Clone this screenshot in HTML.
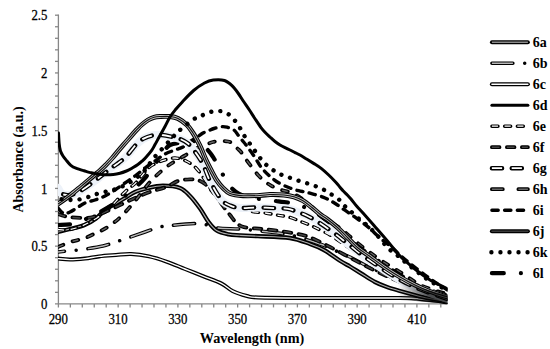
<!DOCTYPE html>
<html><head><meta charset="utf-8"><style>
html,body{margin:0;padding:0;background:#fff;width:550px;height:349px;overflow:hidden}
svg{display:block}
</style></head><body>
<svg width="550" height="349" viewBox="0 0 550 349">
<defs><clipPath id="pc"><rect x="58" y="0" width="389.6" height="304.5"/></clipPath></defs>
<g stroke="#878787" stroke-width="1.3" fill="none">
<line x1="58.4" y1="14.6" x2="58.4" y2="307.6"/>
<line x1="55" y1="303.9" x2="447.2" y2="303.9"/>
<line x1="55" y1="292.35" x2="58.4" y2="292.35"/>
<line x1="55" y1="280.80" x2="58.4" y2="280.80"/>
<line x1="55" y1="269.26" x2="58.4" y2="269.26"/>
<line x1="55" y1="257.71" x2="58.4" y2="257.71"/>
<line x1="55" y1="246.16" x2="58.4" y2="246.16"/>
<line x1="55" y1="234.61" x2="58.4" y2="234.61"/>
<line x1="55" y1="223.06" x2="58.4" y2="223.06"/>
<line x1="55" y1="211.52" x2="58.4" y2="211.52"/>
<line x1="55" y1="199.97" x2="58.4" y2="199.97"/>
<line x1="55" y1="188.42" x2="58.4" y2="188.42"/>
<line x1="55" y1="176.87" x2="58.4" y2="176.87"/>
<line x1="55" y1="165.32" x2="58.4" y2="165.32"/>
<line x1="55" y1="153.78" x2="58.4" y2="153.78"/>
<line x1="55" y1="142.23" x2="58.4" y2="142.23"/>
<line x1="55" y1="130.68" x2="58.4" y2="130.68"/>
<line x1="55" y1="119.13" x2="58.4" y2="119.13"/>
<line x1="55" y1="107.58" x2="58.4" y2="107.58"/>
<line x1="55" y1="96.04" x2="58.4" y2="96.04"/>
<line x1="55" y1="84.49" x2="58.4" y2="84.49"/>
<line x1="55" y1="72.94" x2="58.4" y2="72.94"/>
<line x1="55" y1="61.39" x2="58.4" y2="61.39"/>
<line x1="55" y1="49.84" x2="58.4" y2="49.84"/>
<line x1="55" y1="38.30" x2="58.4" y2="38.30"/>
<line x1="55" y1="26.75" x2="58.4" y2="26.75"/>
<line x1="55" y1="15.20" x2="58.4" y2="15.20"/>
<line x1="70.35" y1="303.9" x2="70.35" y2="307.4"/>
<line x1="82.30" y1="303.9" x2="82.30" y2="307.4"/>
<line x1="94.25" y1="303.9" x2="94.25" y2="307.4"/>
<line x1="106.20" y1="303.9" x2="106.20" y2="307.4"/>
<line x1="118.15" y1="303.9" x2="118.15" y2="307.4"/>
<line x1="130.10" y1="303.9" x2="130.10" y2="307.4"/>
<line x1="142.05" y1="303.9" x2="142.05" y2="307.4"/>
<line x1="154.00" y1="303.9" x2="154.00" y2="307.4"/>
<line x1="165.95" y1="303.9" x2="165.95" y2="307.4"/>
<line x1="177.90" y1="303.9" x2="177.90" y2="307.4"/>
<line x1="189.85" y1="303.9" x2="189.85" y2="307.4"/>
<line x1="201.80" y1="303.9" x2="201.80" y2="307.4"/>
<line x1="213.75" y1="303.9" x2="213.75" y2="307.4"/>
<line x1="225.70" y1="303.9" x2="225.70" y2="307.4"/>
<line x1="237.65" y1="303.9" x2="237.65" y2="307.4"/>
<line x1="249.60" y1="303.9" x2="249.60" y2="307.4"/>
<line x1="261.55" y1="303.9" x2="261.55" y2="307.4"/>
<line x1="273.50" y1="303.9" x2="273.50" y2="307.4"/>
<line x1="285.45" y1="303.9" x2="285.45" y2="307.4"/>
<line x1="297.40" y1="303.9" x2="297.40" y2="307.4"/>
<line x1="309.35" y1="303.9" x2="309.35" y2="307.4"/>
<line x1="321.30" y1="303.9" x2="321.30" y2="307.4"/>
<line x1="333.25" y1="303.9" x2="333.25" y2="307.4"/>
<line x1="345.20" y1="303.9" x2="345.20" y2="307.4"/>
<line x1="357.15" y1="303.9" x2="357.15" y2="307.4"/>
<line x1="369.10" y1="303.9" x2="369.10" y2="307.4"/>
<line x1="381.05" y1="303.9" x2="381.05" y2="307.4"/>
<line x1="393.00" y1="303.9" x2="393.00" y2="307.4"/>
<line x1="404.95" y1="303.9" x2="404.95" y2="307.4"/>
<line x1="416.90" y1="303.9" x2="416.90" y2="307.4"/>
<line x1="428.85" y1="303.9" x2="428.85" y2="307.4"/>
<line x1="440.80" y1="303.9" x2="440.80" y2="307.4"/>
</g>
<g fill="none" stroke-linejoin="round" clip-path="url(#pc)">
<path d="M58.0,258.6 C60.0,258.8 65.5,259.6 70.0,259.6 C74.5,259.6 80.2,259.1 85.0,258.6 C89.8,258.1 93.8,257.0 99.0,256.4 C104.2,255.8 110.7,255.4 116.0,255.0 C121.3,254.6 125.5,253.8 131.0,254.0 C136.5,254.2 143.0,255.1 149.0,256.4 C155.0,257.7 161.0,259.7 167.0,261.8 C173.0,263.9 178.9,266.6 185.0,269.0 C191.1,271.4 197.4,274.0 203.5,276.4 C209.6,278.8 216.8,281.2 221.6,283.6 C226.4,286.0 228.3,288.9 232.5,291.0 C236.7,293.1 242.8,294.9 247.0,296.0 C251.2,297.1 249.2,297.2 258.0,297.5 C266.8,297.8 276.3,297.9 300.0,298.0 C323.7,298.1 380.0,297.8 400.0,298.0 C420.0,298.2 414.2,298.6 420.0,299.0 C425.8,299.4 430.4,299.9 435.0,300.5 C439.6,301.1 445.5,302.2 447.6,302.5" stroke="#000" stroke-width="4.0" stroke-linecap="round"/>
<path d="M58.0,258.6 C60.0,258.8 65.5,259.6 70.0,259.6 C74.5,259.6 80.2,259.1 85.0,258.6 C89.8,258.1 93.8,257.0 99.0,256.4 C104.2,255.8 110.7,255.4 116.0,255.0 C121.3,254.6 125.5,253.8 131.0,254.0 C136.5,254.2 143.0,255.1 149.0,256.4 C155.0,257.7 161.0,259.7 167.0,261.8 C173.0,263.9 178.9,266.6 185.0,269.0 C191.1,271.4 197.4,274.0 203.5,276.4 C209.6,278.8 216.8,281.2 221.6,283.6 C226.4,286.0 228.3,288.9 232.5,291.0 C236.7,293.1 242.8,294.9 247.0,296.0 C251.2,297.1 249.2,297.2 258.0,297.5 C266.8,297.8 276.3,297.9 300.0,298.0 C323.7,298.1 380.0,297.8 400.0,298.0 C420.0,298.2 414.2,298.6 420.0,299.0 C425.8,299.4 430.4,299.9 435.0,300.5 C439.6,301.1 445.5,302.2 447.6,302.5" stroke="#fff" stroke-width="1.4" stroke-linecap="round"/>
<path d="M58.0,232.0 C60.0,231.5 65.6,230.2 70.0,229.0 C74.4,227.8 80.3,226.8 84.6,225.0 C88.9,223.2 92.6,221.0 96.0,218.5 C99.4,216.0 101.8,212.4 105.0,210.0 C108.2,207.6 111.7,206.0 115.0,204.0 C118.3,202.0 121.7,200.0 125.0,198.0 C128.3,196.0 131.1,193.7 135.0,192.0 C138.9,190.3 143.9,189.0 148.6,187.9 C153.2,186.8 157.7,185.7 162.9,185.7 C168.1,185.7 175.4,186.2 179.9,187.9 C184.4,189.6 186.7,192.6 190.0,196.0 C193.3,199.4 196.9,204.2 200.0,208.5 C203.1,212.8 205.8,218.4 208.6,222.1 C211.4,225.8 213.7,228.7 217.0,230.7 C220.3,232.7 224.8,233.5 228.6,234.3 C232.4,235.1 235.1,235.0 240.0,235.3 C244.9,235.6 249.7,235.8 258.0,236.2 C266.3,236.6 281.3,236.7 290.0,238.0 C298.7,239.3 304.3,242.0 310.0,244.0 C315.7,246.0 319.0,247.2 324.0,250.0 C329.0,252.8 335.7,258.1 340.0,260.8 C344.3,263.6 346.4,264.4 350.0,266.5 C353.6,268.6 357.3,271.1 361.5,273.7 C365.7,276.3 370.8,279.8 375.0,282.0 C379.2,284.2 382.8,285.5 387.0,287.0 C391.2,288.5 394.5,289.4 400.0,291.0 C405.5,292.6 414.2,295.1 420.0,296.5 C425.8,297.9 430.4,298.7 435.0,299.5 C439.6,300.3 445.5,301.2 447.6,301.5" stroke="#000" stroke-width="4.3" stroke-linecap="round"/>
<path d="M58.0,232.0 C60.0,231.5 65.6,230.2 70.0,229.0 C74.4,227.8 80.3,226.8 84.6,225.0 C88.9,223.2 92.6,221.0 96.0,218.5 C99.4,216.0 101.8,212.4 105.0,210.0 C108.2,207.6 111.7,206.0 115.0,204.0 C118.3,202.0 121.7,200.0 125.0,198.0 C128.3,196.0 131.1,193.7 135.0,192.0 C138.9,190.3 143.9,189.0 148.6,187.9 C153.2,186.8 157.7,185.7 162.9,185.7 C168.1,185.7 175.4,186.2 179.9,187.9 C184.4,189.6 186.7,192.6 190.0,196.0 C193.3,199.4 196.9,204.2 200.0,208.5 C203.1,212.8 205.8,218.4 208.6,222.1 C211.4,225.8 213.7,228.7 217.0,230.7 C220.3,232.7 224.8,233.5 228.6,234.3 C232.4,235.1 235.1,235.0 240.0,235.3 C244.9,235.6 249.7,235.8 258.0,236.2 C266.3,236.6 281.3,236.7 290.0,238.0 C298.7,239.3 304.3,242.0 310.0,244.0 C315.7,246.0 319.0,247.2 324.0,250.0 C329.0,252.8 335.7,258.1 340.0,260.8 C344.3,263.6 346.4,264.4 350.0,266.5 C353.6,268.6 357.3,271.1 361.5,273.7 C365.7,276.3 370.8,279.8 375.0,282.0 C379.2,284.2 382.8,285.5 387.0,287.0 C391.2,288.5 394.5,289.4 400.0,291.0 C405.5,292.6 414.2,295.1 420.0,296.5 C425.8,297.9 430.4,298.7 435.0,299.5 C439.6,300.3 445.5,301.2 447.6,301.5" stroke="#b0b0b0" stroke-width="1.1" stroke-linecap="round"/>
<path d="M58.0,252.0 C59.9,251.8 65.6,251.1 69.6,250.7 C73.6,250.3 76.4,250.3 82.0,249.5 C87.6,248.7 97.5,247.2 103.0,246.0 C108.5,244.8 111.6,243.2 115.3,242.0 C119.0,240.8 120.0,240.7 125.0,239.0 C129.9,237.3 139.2,234.0 145.0,232.0 C150.8,230.0 155.7,228.1 160.0,227.0 C164.3,225.9 165.0,226.1 170.7,225.5 C176.4,224.9 188.7,223.8 194.4,223.6 C200.1,223.4 201.1,223.7 205.0,224.4 C208.9,225.1 212.2,227.2 218.0,228.0 C223.8,228.8 233.0,228.5 240.0,229.0 C247.0,229.5 251.7,230.0 260.0,231.0 C268.3,232.0 280.0,232.8 290.0,235.0 C300.0,237.2 312.5,241.4 320.0,244.0 C327.5,246.6 330.0,248.3 335.0,250.5 C340.0,252.7 345.0,254.6 350.0,257.0 C355.0,259.4 360.0,262.5 365.0,265.0 C370.0,267.5 374.2,269.3 380.0,272.0 C385.8,274.7 393.3,278.0 400.0,281.0 C406.7,284.0 414.2,287.7 420.0,290.0 C425.8,292.3 430.4,293.6 435.0,295.0 C439.6,296.4 445.5,297.9 447.6,298.5" stroke="#000" stroke-width="3.5" stroke-linecap="round" stroke-dasharray="21 11.8 0.01 11.8" stroke-dashoffset="14.5"/>
<path d="M58.0,252.0 C59.9,251.8 65.6,251.1 69.6,250.7 C73.6,250.3 76.4,250.3 82.0,249.5 C87.6,248.7 97.5,247.2 103.0,246.0 C108.5,244.8 111.6,243.2 115.3,242.0 C119.0,240.8 120.0,240.7 125.0,239.0 C129.9,237.3 139.2,234.0 145.0,232.0 C150.8,230.0 155.7,228.1 160.0,227.0 C164.3,225.9 165.0,226.1 170.7,225.5 C176.4,224.9 188.7,223.8 194.4,223.6 C200.1,223.4 201.1,223.7 205.0,224.4 C208.9,225.1 212.2,227.2 218.0,228.0 C223.8,228.8 233.0,228.5 240.0,229.0 C247.0,229.5 251.7,230.0 260.0,231.0 C268.3,232.0 280.0,232.8 290.0,235.0 C300.0,237.2 312.5,241.4 320.0,244.0 C327.5,246.6 330.0,248.3 335.0,250.5 C340.0,252.7 345.0,254.6 350.0,257.0 C355.0,259.4 360.0,262.5 365.0,265.0 C370.0,267.5 374.2,269.3 380.0,272.0 C385.8,274.7 393.3,278.0 400.0,281.0 C406.7,284.0 414.2,287.7 420.0,290.0 C425.8,292.3 430.4,293.6 435.0,295.0 C439.6,296.4 445.5,297.9 447.6,298.5" stroke="#b8b8b8" stroke-width="1.4" stroke-linecap="butt" stroke-dasharray="21 11.8 0.01 11.8" stroke-dashoffset="14.5"/>
<path d="M58.0,229.5 C59.3,229.6 63.0,230.2 66.0,230.0 C69.0,229.8 72.0,229.3 76.0,228.0 C80.0,226.7 85.0,224.8 90.0,222.0 C95.0,219.2 101.3,215.2 106.0,211.4 C110.7,207.6 114.7,202.4 118.0,199.0 C121.3,195.6 123.2,193.6 126.0,191.0 C128.8,188.4 132.1,186.4 135.0,183.6 C137.9,180.8 141.0,176.8 143.5,174.0 C146.0,171.2 146.8,168.7 150.0,166.5 C153.2,164.3 158.3,162.1 162.5,160.7 C166.7,159.3 171.1,157.9 175.0,158.0 C178.9,158.1 182.5,159.3 186.0,161.0 C189.5,162.7 192.8,164.8 196.0,168.0 C199.2,171.2 202.0,175.7 205.0,180.0 C208.0,184.3 211.2,190.2 214.0,194.0 C216.8,197.8 219.3,200.8 222.0,202.5 C224.7,204.2 227.0,203.2 230.0,204.0 C233.0,204.8 236.2,205.7 240.0,207.0 C243.8,208.3 248.2,210.6 252.5,211.6 C256.8,212.6 261.5,212.4 265.5,213.0 C269.5,213.6 272.5,214.3 276.5,215.0 C280.5,215.7 285.2,216.1 289.5,217.3 C293.8,218.5 297.9,220.4 302.0,222.0 C306.1,223.6 309.3,224.8 314.0,227.0 C318.7,229.2 324.8,232.0 330.0,235.0 C335.2,238.0 340.0,241.7 345.0,245.0 C350.0,248.3 354.5,251.5 360.0,255.0 C365.5,258.5 372.2,262.5 378.0,266.0 C383.8,269.5 388.8,272.7 395.0,276.0 C401.2,279.3 409.2,283.2 415.0,286.0 C420.8,288.8 424.6,290.6 430.0,292.5 C435.4,294.4 444.7,296.7 447.6,297.5" stroke="#000" stroke-width="3.4" stroke-linecap="round" stroke-dasharray="6.1 6.6"/>
<path d="M58.0,229.5 C59.3,229.6 63.0,230.2 66.0,230.0 C69.0,229.8 72.0,229.3 76.0,228.0 C80.0,226.7 85.0,224.8 90.0,222.0 C95.0,219.2 101.3,215.2 106.0,211.4 C110.7,207.6 114.7,202.4 118.0,199.0 C121.3,195.6 123.2,193.6 126.0,191.0 C128.8,188.4 132.1,186.4 135.0,183.6 C137.9,180.8 141.0,176.8 143.5,174.0 C146.0,171.2 146.8,168.7 150.0,166.5 C153.2,164.3 158.3,162.1 162.5,160.7 C166.7,159.3 171.1,157.9 175.0,158.0 C178.9,158.1 182.5,159.3 186.0,161.0 C189.5,162.7 192.8,164.8 196.0,168.0 C199.2,171.2 202.0,175.7 205.0,180.0 C208.0,184.3 211.2,190.2 214.0,194.0 C216.8,197.8 219.3,200.8 222.0,202.5 C224.7,204.2 227.0,203.2 230.0,204.0 C233.0,204.8 236.2,205.7 240.0,207.0 C243.8,208.3 248.2,210.6 252.5,211.6 C256.8,212.6 261.5,212.4 265.5,213.0 C269.5,213.6 272.5,214.3 276.5,215.0 C280.5,215.7 285.2,216.1 289.5,217.3 C293.8,218.5 297.9,220.4 302.0,222.0 C306.1,223.6 309.3,224.8 314.0,227.0 C318.7,229.2 324.8,232.0 330.0,235.0 C335.2,238.0 340.0,241.7 345.0,245.0 C350.0,248.3 354.5,251.5 360.0,255.0 C365.5,258.5 372.2,262.5 378.0,266.0 C383.8,269.5 388.8,272.7 395.0,276.0 C401.2,279.3 409.2,283.2 415.0,286.0 C420.8,288.8 424.6,290.6 430.0,292.5 C435.4,294.4 444.7,296.7 447.6,297.5" stroke="#fff" stroke-width="1.3" stroke-linecap="butt" stroke-dasharray="6.1 6.6"/>
<path d="M58.0,214.0 C59.0,214.3 61.7,215.4 64.0,216.0 C66.3,216.6 68.5,217.1 72.0,217.4 C75.5,217.7 81.5,218.1 85.0,218.0 C88.5,217.9 89.7,218.0 93.0,217.0 C96.3,216.0 100.5,214.0 105.0,212.0 C109.5,210.0 115.0,207.3 120.0,205.0 C125.0,202.7 130.0,200.2 135.0,198.0 C140.0,195.8 144.8,193.8 150.0,192.0 C155.2,190.2 161.3,188.8 166.0,187.0 C170.7,185.2 174.0,182.3 178.0,181.0 C182.0,179.7 186.7,179.4 190.0,179.3 C193.3,179.2 195.5,179.4 198.0,180.2 C200.5,181.0 202.8,182.4 205.0,184.0 C207.2,185.6 209.2,188.1 211.0,190.0 C212.8,191.9 214.0,192.8 216.0,195.5 C218.0,198.2 220.7,202.8 223.0,206.0 C225.3,209.2 227.8,212.2 230.0,215.0 C232.2,217.8 234.0,220.6 236.0,222.5 C238.0,224.4 239.7,225.6 242.0,226.5 C244.3,227.4 246.7,227.6 250.0,228.0 C253.3,228.4 257.0,228.5 262.0,229.0 C267.0,229.5 274.5,230.2 280.0,231.0 C285.5,231.8 290.7,232.7 295.0,233.5 C299.3,234.3 302.8,235.1 306.0,236.0 C309.2,236.9 310.0,237.2 314.0,239.0 C318.0,240.8 324.8,244.3 330.0,247.0 C335.2,249.7 340.0,252.3 345.0,255.0 C350.0,257.7 354.2,260.0 360.0,263.0 C365.8,266.0 373.3,269.8 380.0,273.0 C386.7,276.2 393.3,279.2 400.0,282.0 C406.7,284.8 414.2,288.0 420.0,290.0 C425.8,292.0 430.4,292.8 435.0,294.0 C439.6,295.2 445.5,296.5 447.6,297.0" stroke="#000" stroke-width="3.8" stroke-linecap="round" stroke-dasharray="7.6 7.4"/>
<path d="M58.0,214.0 C59.0,214.3 61.7,215.4 64.0,216.0 C66.3,216.6 68.5,217.1 72.0,217.4 C75.5,217.7 81.5,218.1 85.0,218.0 C88.5,217.9 89.7,218.0 93.0,217.0 C96.3,216.0 100.5,214.0 105.0,212.0 C109.5,210.0 115.0,207.3 120.0,205.0 C125.0,202.7 130.0,200.2 135.0,198.0 C140.0,195.8 144.8,193.8 150.0,192.0 C155.2,190.2 161.3,188.8 166.0,187.0 C170.7,185.2 174.0,182.3 178.0,181.0 C182.0,179.7 186.7,179.4 190.0,179.3 C193.3,179.2 195.5,179.4 198.0,180.2 C200.5,181.0 202.8,182.4 205.0,184.0 C207.2,185.6 209.2,188.1 211.0,190.0 C212.8,191.9 214.0,192.8 216.0,195.5 C218.0,198.2 220.7,202.8 223.0,206.0 C225.3,209.2 227.8,212.2 230.0,215.0 C232.2,217.8 234.0,220.6 236.0,222.5 C238.0,224.4 239.7,225.6 242.0,226.5 C244.3,227.4 246.7,227.6 250.0,228.0 C253.3,228.4 257.0,228.5 262.0,229.0 C267.0,229.5 274.5,230.2 280.0,231.0 C285.5,231.8 290.7,232.7 295.0,233.5 C299.3,234.3 302.8,235.1 306.0,236.0 C309.2,236.9 310.0,237.2 314.0,239.0 C318.0,240.8 324.8,244.3 330.0,247.0 C335.2,249.7 340.0,252.3 345.0,255.0 C350.0,257.7 354.2,260.0 360.0,263.0 C365.8,266.0 373.3,269.8 380.0,273.0 C386.7,276.2 393.3,279.2 400.0,282.0 C406.7,284.8 414.2,288.0 420.0,290.0 C425.8,292.0 430.4,292.8 435.0,294.0 C439.6,295.2 445.5,296.5 447.6,297.0" stroke="#444" stroke-width="1.6" stroke-linecap="butt" stroke-dasharray="7.6 7.4"/>
<path d="M58.0,247.0 C60.3,246.1 67.7,242.9 72.0,241.5 C76.3,240.1 80.0,239.9 84.0,238.5 C88.0,237.1 92.2,234.8 96.0,233.0 C99.8,231.2 103.0,230.1 107.0,227.5 C111.0,224.9 115.3,221.9 120.0,217.5 C124.7,213.1 130.0,206.9 135.0,201.0 C140.0,195.1 145.0,187.5 150.0,182.0 C155.0,176.5 160.5,171.7 165.0,168.0 C169.5,164.3 173.7,162.1 177.0,160.0 C180.3,157.9 182.0,157.3 185.0,155.5 C188.0,153.7 191.7,150.8 195.0,149.0 C198.3,147.2 202.0,146.2 205.0,145.0 C208.0,143.8 210.3,142.7 213.0,142.0 C215.7,141.3 218.5,141.1 221.0,141.0 C223.5,140.9 226.0,141.1 228.0,141.5 C230.0,141.9 231.5,142.5 233.0,143.6 C234.5,144.7 235.7,146.6 237.0,148.0 C238.3,149.4 239.7,150.3 241.0,152.0 C242.3,153.7 243.3,155.7 245.0,158.0 C246.7,160.3 248.8,163.2 251.0,166.0 C253.2,168.8 255.7,172.4 258.0,175.0 C260.3,177.6 262.8,179.7 265.0,181.5 C267.2,183.3 268.8,184.3 271.0,185.6 C273.2,186.8 275.3,188.0 278.0,189.0 C280.7,190.0 284.3,190.6 287.0,191.4 C289.7,192.2 291.7,192.9 294.0,194.0 C296.3,195.1 299.0,196.7 301.0,198.0 C303.0,199.3 304.3,200.5 306.0,202.0 C307.7,203.5 309.4,205.2 311.4,207.0 C313.4,208.8 314.9,210.5 318.0,213.0 C321.1,215.5 326.3,219.5 330.0,222.0 C333.7,224.5 336.7,225.6 340.0,228.0 C343.3,230.4 346.7,233.7 350.0,236.5 C353.3,239.3 356.7,242.3 360.0,245.0 C363.3,247.7 366.7,250.1 370.0,252.5 C373.3,254.9 376.7,257.4 380.0,259.6 C383.3,261.9 386.7,263.9 390.0,266.0 C393.3,268.1 396.7,269.9 400.0,272.0 C403.3,274.1 406.7,276.3 410.0,278.5 C413.3,280.7 415.8,283.0 420.0,285.0 C424.2,287.0 430.4,289.0 435.0,290.5 C439.6,292.0 445.5,293.4 447.6,294.0" stroke="#000" stroke-width="3.8" stroke-linecap="round" stroke-dasharray="5.8 9.8"/>
<path d="M58.0,247.0 C60.3,246.1 67.7,242.9 72.0,241.5 C76.3,240.1 80.0,239.9 84.0,238.5 C88.0,237.1 92.2,234.8 96.0,233.0 C99.8,231.2 103.0,230.1 107.0,227.5 C111.0,224.9 115.3,221.9 120.0,217.5 C124.7,213.1 130.0,206.9 135.0,201.0 C140.0,195.1 145.0,187.5 150.0,182.0 C155.0,176.5 160.5,171.7 165.0,168.0 C169.5,164.3 173.7,162.1 177.0,160.0 C180.3,157.9 182.0,157.3 185.0,155.5 C188.0,153.7 191.7,150.8 195.0,149.0 C198.3,147.2 202.0,146.2 205.0,145.0 C208.0,143.8 210.3,142.7 213.0,142.0 C215.7,141.3 218.5,141.1 221.0,141.0 C223.5,140.9 226.0,141.1 228.0,141.5 C230.0,141.9 231.5,142.5 233.0,143.6 C234.5,144.7 235.7,146.6 237.0,148.0 C238.3,149.4 239.7,150.3 241.0,152.0 C242.3,153.7 243.3,155.7 245.0,158.0 C246.7,160.3 248.8,163.2 251.0,166.0 C253.2,168.8 255.7,172.4 258.0,175.0 C260.3,177.6 262.8,179.7 265.0,181.5 C267.2,183.3 268.8,184.3 271.0,185.6 C273.2,186.8 275.3,188.0 278.0,189.0 C280.7,190.0 284.3,190.6 287.0,191.4 C289.7,192.2 291.7,192.9 294.0,194.0 C296.3,195.1 299.0,196.7 301.0,198.0 C303.0,199.3 304.3,200.5 306.0,202.0 C307.7,203.5 309.4,205.2 311.4,207.0 C313.4,208.8 314.9,210.5 318.0,213.0 C321.1,215.5 326.3,219.5 330.0,222.0 C333.7,224.5 336.7,225.6 340.0,228.0 C343.3,230.4 346.7,233.7 350.0,236.5 C353.3,239.3 356.7,242.3 360.0,245.0 C363.3,247.7 366.7,250.1 370.0,252.5 C373.3,254.9 376.7,257.4 380.0,259.6 C383.3,261.9 386.7,263.9 390.0,266.0 C393.3,268.1 396.7,269.9 400.0,272.0 C403.3,274.1 406.7,276.3 410.0,278.5 C413.3,280.7 415.8,283.0 420.0,285.0 C424.2,287.0 430.4,289.0 435.0,290.5 C439.6,292.0 445.5,293.4 447.6,294.0" stroke="#666" stroke-width="1.4" stroke-linecap="butt" stroke-dasharray="5.8 9.8"/>
<path d="M58.0,225.0 C60.3,224.8 67.3,225.0 72.0,224.0 C76.7,223.0 81.3,221.0 86.0,219.0 C90.7,217.0 95.2,214.7 100.0,212.0 C104.8,209.3 110.0,206.3 115.0,203.0 C120.0,199.7 125.0,196.2 130.0,192.0 C135.0,187.8 140.3,183.3 145.0,178.0 C149.7,172.7 154.8,164.5 158.0,160.0 C161.2,155.5 162.0,153.5 164.0,151.0 C166.0,148.5 167.3,146.3 170.0,145.0 C172.7,143.7 177.2,143.3 180.0,143.0 C182.8,142.7 184.5,143.3 187.0,143.0 C189.5,142.7 192.7,141.0 195.0,141.0 C197.3,141.0 199.2,141.8 201.0,143.0 C202.8,144.2 204.3,146.2 206.0,148.0 C207.7,149.8 209.7,152.2 211.0,154.0 C212.3,155.8 212.8,156.8 214.0,158.6 C215.2,160.4 216.8,162.8 218.0,165.0 C219.2,167.2 220.1,169.5 221.4,172.0 C222.7,174.5 224.6,177.6 226.0,180.0 C227.4,182.4 227.9,184.1 230.0,186.4 C232.1,188.7 235.3,191.8 238.6,193.6 C241.9,195.4 246.1,196.6 250.0,197.5 C253.9,198.4 257.7,198.7 262.0,199.3 C266.3,199.9 271.3,200.4 276.0,201.0 C280.7,201.6 286.0,202.2 290.0,203.0 C294.0,203.8 295.8,204.2 300.0,205.7 C304.2,207.2 308.3,207.6 315.0,212.0 C321.7,216.4 334.2,227.3 340.0,232.0 C345.8,236.7 346.7,237.3 350.0,240.0 C353.3,242.7 356.7,245.5 360.0,248.0 C363.3,250.5 366.7,252.7 370.0,255.0 C373.3,257.3 376.7,259.8 380.0,262.0 C383.3,264.2 386.7,266.3 390.0,268.5 C393.3,270.7 396.7,272.9 400.0,275.0 C403.3,277.1 406.7,279.0 410.0,281.0 C413.3,283.0 415.8,285.2 420.0,287.0 C424.2,288.8 430.4,290.6 435.0,292.0 C439.6,293.4 445.5,294.9 447.6,295.5" stroke="#000" stroke-width="4.2" stroke-linecap="round" stroke-dasharray="11.9 17.1 0.01 17.1"/>
<path d="M58.0,208.0 C58.8,208.8 61.0,212.3 63.0,213.0 C65.0,213.7 66.3,213.7 70.0,212.0 C73.7,210.3 80.8,205.0 85.0,203.0 C89.2,201.0 91.7,201.2 95.0,200.0 C98.3,198.8 101.7,197.7 105.0,196.0 C108.3,194.3 111.7,192.2 115.0,190.0 C118.3,187.8 121.7,185.3 125.0,183.0 C128.3,180.7 131.7,178.5 135.0,176.0 C138.3,173.5 141.7,170.5 145.0,168.0 C148.3,165.5 151.7,163.3 155.0,161.0 C158.3,158.7 161.7,155.8 165.0,154.0 C168.3,152.2 172.0,151.2 175.0,150.0 C178.0,148.8 180.3,148.5 183.0,147.0 C185.7,145.5 188.5,142.8 191.0,141.0 C193.5,139.2 196.0,137.8 198.0,136.5 C200.0,135.2 201.2,134.0 203.0,133.0 C204.8,132.0 207.2,131.2 209.0,130.5 C210.8,129.8 211.8,129.1 214.0,128.5 C216.2,127.9 219.8,126.9 222.0,126.7 C224.2,126.5 225.0,126.7 227.0,127.2 C229.0,127.8 232.2,128.7 234.0,130.0 C235.8,131.3 236.7,133.3 238.0,135.0 C239.3,136.7 240.7,138.3 242.0,140.0 C243.3,141.7 244.0,142.3 246.0,145.0 C248.0,147.7 251.5,152.3 254.0,156.0 C256.5,159.7 258.5,163.8 261.0,167.0 C263.5,170.2 266.0,172.8 269.0,175.5 C272.0,178.2 275.5,180.9 279.0,183.0 C282.5,185.1 286.7,186.7 290.0,188.0 C293.3,189.3 296.0,190.0 298.6,190.7 C301.2,191.4 303.1,191.5 305.7,192.1 C308.3,192.7 311.1,193.5 314.0,194.3 C316.9,195.1 320.2,196.1 322.9,197.1 C325.6,198.1 327.8,199.3 330.0,200.5 C332.2,201.7 333.8,202.6 336.0,204.0 C338.2,205.4 340.0,206.9 343.0,209.0 C346.0,211.1 350.7,214.1 354.0,216.4 C357.3,218.7 360.3,221.0 363.0,223.0 C365.7,225.0 367.2,226.1 370.0,228.6 C372.8,231.1 376.7,235.1 380.0,238.0 C383.3,240.9 386.7,243.2 390.0,246.0 C393.3,248.8 396.7,252.1 400.0,255.0 C403.3,257.9 405.8,260.2 410.0,263.5 C414.2,266.8 420.5,271.7 425.0,275.0 C429.5,278.3 433.2,281.0 437.0,283.5 C440.8,286.0 445.8,288.9 447.6,290.0" stroke="#000" stroke-width="3.4" stroke-linecap="round" stroke-dasharray="6.3 6.4"/>
<path d="M58.0,188.0 C58.5,188.8 59.7,191.8 61.0,193.0 C62.3,194.2 64.0,194.8 66.0,195.0 C68.0,195.2 70.3,195.1 73.0,194.3 C75.7,193.5 78.2,192.4 82.0,190.0 C85.8,187.6 91.3,183.5 96.0,180.0 C100.7,176.5 106.5,171.7 110.0,169.0 C113.5,166.3 114.7,165.7 117.0,164.0 C119.3,162.3 121.8,160.6 124.0,158.6 C126.2,156.6 127.9,154.4 130.0,152.0 C132.1,149.6 134.1,146.5 136.4,144.3 C138.7,142.1 140.8,140.1 143.6,138.6 C146.3,137.1 149.8,135.9 152.9,135.3 C156.0,134.7 159.0,134.8 162.0,135.0 C165.0,135.2 168.0,135.9 171.0,136.6 C174.0,137.3 177.2,137.8 180.0,139.0 C182.8,140.2 185.7,141.6 188.0,143.5 C190.3,145.4 192.0,147.9 194.0,150.5 C196.0,153.1 198.2,156.1 200.0,159.0 C201.8,161.9 203.0,164.7 204.5,168.0 C206.0,171.3 207.5,175.8 209.0,179.0 C210.5,182.2 212.0,184.8 213.5,187.5 C215.0,190.2 216.4,192.7 218.0,195.0 C219.6,197.3 221.0,199.8 223.0,201.5 C225.0,203.2 227.2,204.4 230.0,205.5 C232.8,206.6 235.5,207.7 240.0,208.0 C244.5,208.3 250.8,207.5 257.0,207.5 C263.2,207.5 271.8,208.0 277.0,208.2 C282.2,208.4 284.8,208.3 288.0,208.8 C291.2,209.3 292.8,210.2 296.0,211.4 C299.2,212.6 303.3,213.9 307.0,215.7 C310.7,217.5 313.5,219.1 318.0,222.0 C322.5,224.9 329.0,229.3 334.0,233.0 C339.0,236.7 343.3,240.3 348.0,244.0 C352.7,247.7 357.0,251.3 362.0,255.0 C367.0,258.7 372.5,262.3 378.0,266.0 C383.5,269.7 389.7,273.8 395.0,277.0 C400.3,280.2 404.2,282.3 410.0,285.0 C415.8,287.7 423.7,290.7 430.0,293.0 C436.3,295.3 444.7,298.0 447.6,299.0" stroke="#edf2f9" stroke-width="8" stroke-linecap="round"/>
<path d="M58.0,188.0 C58.5,188.8 59.7,191.8 61.0,193.0 C62.3,194.2 64.0,194.8 66.0,195.0 C68.0,195.2 70.3,195.1 73.0,194.3 C75.7,193.5 78.2,192.4 82.0,190.0 C85.8,187.6 91.3,183.5 96.0,180.0 C100.7,176.5 106.5,171.7 110.0,169.0 C113.5,166.3 114.7,165.7 117.0,164.0 C119.3,162.3 121.8,160.6 124.0,158.6 C126.2,156.6 127.9,154.4 130.0,152.0 C132.1,149.6 134.1,146.5 136.4,144.3 C138.7,142.1 140.8,140.1 143.6,138.6 C146.3,137.1 149.8,135.9 152.9,135.3 C156.0,134.7 159.0,134.8 162.0,135.0 C165.0,135.2 168.0,135.9 171.0,136.6 C174.0,137.3 177.2,137.8 180.0,139.0 C182.8,140.2 185.7,141.6 188.0,143.5 C190.3,145.4 192.0,147.9 194.0,150.5 C196.0,153.1 198.2,156.1 200.0,159.0 C201.8,161.9 203.0,164.7 204.5,168.0 C206.0,171.3 207.5,175.8 209.0,179.0 C210.5,182.2 212.0,184.8 213.5,187.5 C215.0,190.2 216.4,192.7 218.0,195.0 C219.6,197.3 221.0,199.8 223.0,201.5 C225.0,203.2 227.2,204.4 230.0,205.5 C232.8,206.6 235.5,207.7 240.0,208.0 C244.5,208.3 250.8,207.5 257.0,207.5 C263.2,207.5 271.8,208.0 277.0,208.2 C282.2,208.4 284.8,208.3 288.0,208.8 C291.2,209.3 292.8,210.2 296.0,211.4 C299.2,212.6 303.3,213.9 307.0,215.7 C310.7,217.5 313.5,219.1 318.0,222.0 C322.5,224.9 329.0,229.3 334.0,233.0 C339.0,236.7 343.3,240.3 348.0,244.0 C352.7,247.7 357.0,251.3 362.0,255.0 C367.0,258.7 372.5,262.3 378.0,266.0 C383.5,269.7 389.7,273.8 395.0,277.0 C400.3,280.2 404.2,282.3 410.0,285.0 C415.8,287.7 423.7,290.7 430.0,293.0 C436.3,295.3 444.7,298.0 447.6,299.0" stroke="#000" stroke-width="4.4" stroke-linecap="round" stroke-dasharray="10.2 9.6" stroke-dashoffset="11.3"/>
<path d="M58.0,188.0 C58.5,188.8 59.7,191.8 61.0,193.0 C62.3,194.2 64.0,194.8 66.0,195.0 C68.0,195.2 70.3,195.1 73.0,194.3 C75.7,193.5 78.2,192.4 82.0,190.0 C85.8,187.6 91.3,183.5 96.0,180.0 C100.7,176.5 106.5,171.7 110.0,169.0 C113.5,166.3 114.7,165.7 117.0,164.0 C119.3,162.3 121.8,160.6 124.0,158.6 C126.2,156.6 127.9,154.4 130.0,152.0 C132.1,149.6 134.1,146.5 136.4,144.3 C138.7,142.1 140.8,140.1 143.6,138.6 C146.3,137.1 149.8,135.9 152.9,135.3 C156.0,134.7 159.0,134.8 162.0,135.0 C165.0,135.2 168.0,135.9 171.0,136.6 C174.0,137.3 177.2,137.8 180.0,139.0 C182.8,140.2 185.7,141.6 188.0,143.5 C190.3,145.4 192.0,147.9 194.0,150.5 C196.0,153.1 198.2,156.1 200.0,159.0 C201.8,161.9 203.0,164.7 204.5,168.0 C206.0,171.3 207.5,175.8 209.0,179.0 C210.5,182.2 212.0,184.8 213.5,187.5 C215.0,190.2 216.4,192.7 218.0,195.0 C219.6,197.3 221.0,199.8 223.0,201.5 C225.0,203.2 227.2,204.4 230.0,205.5 C232.8,206.6 235.5,207.7 240.0,208.0 C244.5,208.3 250.8,207.5 257.0,207.5 C263.2,207.5 271.8,208.0 277.0,208.2 C282.2,208.4 284.8,208.3 288.0,208.8 C291.2,209.3 292.8,210.2 296.0,211.4 C299.2,212.6 303.3,213.9 307.0,215.7 C310.7,217.5 313.5,219.1 318.0,222.0 C322.5,224.9 329.0,229.3 334.0,233.0 C339.0,236.7 343.3,240.3 348.0,244.0 C352.7,247.7 357.0,251.3 362.0,255.0 C367.0,258.7 372.5,262.3 378.0,266.0 C383.5,269.7 389.7,273.8 395.0,277.0 C400.3,280.2 404.2,282.3 410.0,285.0 C415.8,287.7 423.7,290.7 430.0,293.0 C436.3,295.3 444.7,298.0 447.6,299.0" stroke="#fff" stroke-width="1.8" stroke-linecap="butt" stroke-dasharray="10.2 9.6" stroke-dashoffset="11.3"/>
<path d="M58.0,204.0 C60.0,202.6 66.0,198.6 70.0,195.5 C74.0,192.4 78.0,188.9 82.0,185.6 C86.0,182.3 91.0,178.0 94.0,175.5 C97.0,173.0 98.0,172.3 100.0,170.5 C102.0,168.7 104.0,166.9 106.0,164.8 C108.0,162.7 110.3,160.3 112.3,158.0 C114.3,155.7 116.0,153.5 118.0,151.2 C120.0,148.9 122.0,146.5 124.0,144.2 C126.0,141.9 128.0,139.6 130.0,137.3 C132.0,135.0 134.0,132.6 136.0,130.5 C138.0,128.4 140.0,126.2 142.0,124.5 C144.0,122.8 146.0,121.2 148.0,120.0 C150.0,118.8 152.0,117.9 154.0,117.3 C156.0,116.7 157.3,116.6 160.0,116.5 C162.7,116.4 167.0,116.2 170.0,116.5 C173.0,116.8 175.2,117.1 178.0,118.5 C180.8,119.9 184.5,122.6 187.0,125.0 C189.5,127.4 191.3,130.5 193.0,133.0 C194.7,135.5 195.7,137.5 197.0,140.0 C198.3,142.5 199.6,144.8 201.0,148.0 C202.4,151.2 204.0,155.5 205.7,159.3 C207.4,163.1 209.5,167.1 211.4,170.7 C213.3,174.3 215.1,177.8 217.0,180.7 C218.9,183.6 220.8,185.9 223.0,188.0 C225.2,190.1 226.7,192.2 230.0,193.5 C233.3,194.8 238.0,195.4 243.0,195.7 C248.0,196.0 255.5,195.7 260.0,195.5 C264.5,195.3 266.0,194.6 270.0,194.5 C274.0,194.4 280.0,194.6 284.0,195.0 C288.0,195.4 290.8,195.9 294.0,196.8 C297.2,197.8 300.1,199.0 303.0,200.7 C305.9,202.4 308.6,204.7 311.4,207.0 C314.2,209.3 317.4,212.3 320.0,214.3 C322.6,216.3 324.0,216.7 327.0,219.0 C330.0,221.3 334.5,224.8 338.0,228.0 C341.5,231.2 344.7,234.7 348.0,238.0 C351.3,241.3 354.3,244.9 358.0,248.0 C361.7,251.1 365.5,253.2 370.0,256.5 C374.5,259.8 380.0,264.1 385.0,267.5 C390.0,270.9 395.0,274.1 400.0,277.0 C405.0,279.9 410.0,282.6 415.0,285.0 C420.0,287.4 424.6,289.5 430.0,291.5 C435.4,293.5 444.7,296.1 447.6,297.0" stroke="#000" stroke-width="4.9" stroke-linecap="round"/>
<path d="M58.0,204.0 C60.0,202.6 66.0,198.6 70.0,195.5 C74.0,192.4 78.0,188.9 82.0,185.6 C86.0,182.3 91.0,178.0 94.0,175.5 C97.0,173.0 98.0,172.3 100.0,170.5 C102.0,168.7 104.0,166.9 106.0,164.8 C108.0,162.7 110.3,160.3 112.3,158.0 C114.3,155.7 116.0,153.5 118.0,151.2 C120.0,148.9 122.0,146.5 124.0,144.2 C126.0,141.9 128.0,139.6 130.0,137.3 C132.0,135.0 134.0,132.6 136.0,130.5 C138.0,128.4 140.0,126.2 142.0,124.5 C144.0,122.8 146.0,121.2 148.0,120.0 C150.0,118.8 152.0,117.9 154.0,117.3 C156.0,116.7 157.3,116.6 160.0,116.5 C162.7,116.4 167.0,116.2 170.0,116.5 C173.0,116.8 175.2,117.1 178.0,118.5 C180.8,119.9 184.5,122.6 187.0,125.0 C189.5,127.4 191.3,130.5 193.0,133.0 C194.7,135.5 195.7,137.5 197.0,140.0 C198.3,142.5 199.6,144.8 201.0,148.0 C202.4,151.2 204.0,155.5 205.7,159.3 C207.4,163.1 209.5,167.1 211.4,170.7 C213.3,174.3 215.1,177.8 217.0,180.7 C218.9,183.6 220.8,185.9 223.0,188.0 C225.2,190.1 226.7,192.2 230.0,193.5 C233.3,194.8 238.0,195.4 243.0,195.7 C248.0,196.0 255.5,195.7 260.0,195.5 C264.5,195.3 266.0,194.6 270.0,194.5 C274.0,194.4 280.0,194.6 284.0,195.0 C288.0,195.4 290.8,195.9 294.0,196.8 C297.2,197.8 300.1,199.0 303.0,200.7 C305.9,202.4 308.6,204.7 311.4,207.0 C314.2,209.3 317.4,212.3 320.0,214.3 C322.6,216.3 324.0,216.7 327.0,219.0 C330.0,221.3 334.5,224.8 338.0,228.0 C341.5,231.2 344.7,234.7 348.0,238.0 C351.3,241.3 354.3,244.9 358.0,248.0 C361.7,251.1 365.5,253.2 370.0,256.5 C374.5,259.8 380.0,264.1 385.0,267.5 C390.0,270.9 395.0,274.1 400.0,277.0 C405.0,279.9 410.0,282.6 415.0,285.0 C420.0,287.4 424.6,289.5 430.0,291.5 C435.4,293.5 444.7,296.1 447.6,297.0" stroke="#c4c4c4" stroke-width="2.8" stroke-linecap="round"/>
<path d="M58.0,204.0 C60.0,202.6 66.0,198.6 70.0,195.5 C74.0,192.4 78.0,188.9 82.0,185.6 C86.0,182.3 91.0,178.0 94.0,175.5 C97.0,173.0 98.0,172.3 100.0,170.5 C102.0,168.7 104.0,166.9 106.0,164.8 C108.0,162.7 110.3,160.3 112.3,158.0 C114.3,155.7 116.0,153.5 118.0,151.2 C120.0,148.9 122.0,146.5 124.0,144.2 C126.0,141.9 128.0,139.6 130.0,137.3 C132.0,135.0 134.0,132.6 136.0,130.5 C138.0,128.4 140.0,126.2 142.0,124.5 C144.0,122.8 146.0,121.2 148.0,120.0 C150.0,118.8 152.0,117.9 154.0,117.3 C156.0,116.7 157.3,116.6 160.0,116.5 C162.7,116.4 167.0,116.2 170.0,116.5 C173.0,116.8 175.2,117.1 178.0,118.5 C180.8,119.9 184.5,122.6 187.0,125.0 C189.5,127.4 191.3,130.5 193.0,133.0 C194.7,135.5 195.7,137.5 197.0,140.0 C198.3,142.5 199.6,144.8 201.0,148.0 C202.4,151.2 204.0,155.5 205.7,159.3 C207.4,163.1 209.5,167.1 211.4,170.7 C213.3,174.3 215.1,177.8 217.0,180.7 C218.9,183.6 220.8,185.9 223.0,188.0 C225.2,190.1 226.7,192.2 230.0,193.5 C233.3,194.8 238.0,195.4 243.0,195.7 C248.0,196.0 255.5,195.7 260.0,195.5 C264.5,195.3 266.0,194.6 270.0,194.5 C274.0,194.4 280.0,194.6 284.0,195.0 C288.0,195.4 290.8,195.9 294.0,196.8 C297.2,197.8 300.1,199.0 303.0,200.7 C305.9,202.4 308.6,204.7 311.4,207.0 C314.2,209.3 317.4,212.3 320.0,214.3 C322.6,216.3 324.0,216.7 327.0,219.0 C330.0,221.3 334.5,224.8 338.0,228.0 C341.5,231.2 344.7,234.7 348.0,238.0 C351.3,241.3 354.3,244.9 358.0,248.0 C361.7,251.1 365.5,253.2 370.0,256.5 C374.5,259.8 380.0,264.1 385.0,267.5 C390.0,270.9 395.0,274.1 400.0,277.0 C405.0,279.9 410.0,282.6 415.0,285.0 C420.0,287.4 424.6,289.5 430.0,291.5 C435.4,293.5 444.7,296.1 447.6,297.0" stroke="#111" stroke-width="1.1" stroke-linecap="round"/>
<path d="M58.0,199.0 C59.0,199.1 61.7,199.1 64.0,199.3 C66.3,199.5 69.3,200.0 72.0,200.0 C74.7,200.0 77.0,199.9 80.0,199.3 C83.0,198.7 87.0,197.4 90.0,196.4 C93.0,195.4 95.2,194.4 98.0,193.6 C100.8,192.8 104.2,192.1 107.0,191.4 C109.8,190.7 112.2,190.3 115.0,189.3 C117.8,188.3 120.7,187.3 124.0,185.6 C127.3,183.9 131.5,181.6 135.0,179.0 C138.5,176.4 142.0,173.3 145.0,170.0 C148.0,166.7 150.0,162.7 153.0,159.0 C156.0,155.3 159.8,151.5 163.0,148.0 C166.2,144.5 169.2,141.0 172.0,138.0 C174.8,135.0 176.3,133.2 180.0,130.0 C183.7,126.8 190.3,121.4 194.0,119.0 C197.7,116.6 199.1,116.7 202.0,115.5 C204.9,114.3 208.4,112.4 211.6,111.7 C214.8,111.0 218.1,110.7 221.0,111.2 C223.9,111.7 226.7,113.0 229.0,114.6 C231.3,116.2 233.2,118.5 235.0,120.7 C236.8,122.9 238.4,125.5 240.0,128.0 C241.6,130.5 242.8,133.2 244.3,135.7 C245.9,138.2 247.6,140.5 249.3,142.9 C251.0,145.3 252.5,147.5 254.3,150.0 C256.1,152.5 258.1,155.5 260.0,157.9 C261.9,160.3 263.6,162.3 265.7,164.3 C267.8,166.3 270.4,168.3 272.9,170.0 C275.4,171.7 277.9,173.1 280.5,174.3 C283.1,175.5 285.8,176.3 288.6,177.3 C291.4,178.3 294.2,179.3 297.1,180.2 C300.0,181.1 302.8,182.0 305.7,182.9 C308.6,183.8 311.4,184.6 314.3,185.7 C317.2,186.8 320.3,188.0 322.9,189.3 C325.5,190.6 327.5,192.1 330.0,193.6 C332.5,195.1 335.7,196.7 338.0,198.6 C340.3,200.5 341.6,203.0 343.6,205.0 C345.6,207.0 347.6,208.5 350.0,210.7 C352.4,212.9 355.3,215.7 358.0,218.0 C360.7,220.3 363.0,221.8 366.0,224.5 C369.0,227.2 372.3,230.1 376.0,234.0 C379.7,237.9 384.8,244.7 388.0,248.0 C391.2,251.3 392.9,251.8 395.3,253.7 C397.7,255.6 399.8,257.4 402.2,259.5 C404.6,261.6 407.0,263.6 410.0,266.0 C413.0,268.4 416.7,271.5 420.0,274.0 C423.3,276.5 426.7,278.9 430.0,281.0 C433.3,283.1 437.1,284.9 440.0,286.5 C442.9,288.1 446.3,289.8 447.6,290.5" stroke="#000" stroke-width="4.4" stroke-linecap="round" stroke-dasharray="0.01 9.03" stroke-dashoffset="5.5"/>
<path d="M58.5,133.0 C58.6,134.8 58.9,141.0 59.2,144.0 C59.5,147.0 59.8,148.8 60.4,150.8 C61.0,152.8 61.9,154.3 63.0,156.0 C64.1,157.7 65.6,159.4 66.9,161.0 C68.2,162.6 69.3,164.1 70.8,165.3 C72.3,166.5 73.7,167.3 75.9,168.2 C78.1,169.1 81.6,170.1 84.0,170.8 C86.4,171.5 87.4,172.0 90.4,172.6 C93.4,173.2 98.1,174.2 101.9,174.5 C105.7,174.8 110.3,174.7 113.3,174.5 C116.3,174.3 117.8,173.9 120.0,173.3 C122.2,172.7 124.5,171.8 126.5,171.0 C128.5,170.2 130.1,169.3 132.0,168.2 C133.9,167.1 136.2,165.8 137.9,164.6 C139.6,163.4 140.7,162.4 142.0,161.2 C143.3,160.0 144.4,159.0 146.0,157.2 C147.6,155.4 150.2,152.4 151.7,150.3 C153.2,148.2 153.6,147.1 155.0,144.6 C156.4,142.1 158.3,138.5 160.0,135.5 C161.7,132.5 163.3,129.6 165.0,126.5 C166.7,123.4 168.2,119.9 170.0,117.0 C171.8,114.1 173.9,111.6 176.0,109.0 C178.1,106.4 179.8,104.6 182.7,101.5 C185.6,98.4 190.0,93.6 193.6,90.5 C197.2,87.4 201.2,84.8 204.5,83.0 C207.8,81.2 210.0,80.4 213.3,80.0 C216.6,79.6 221.4,79.5 224.5,80.5 C227.6,81.5 229.8,83.6 232.0,85.7 C234.2,87.8 236.1,90.4 238.0,93.0 C239.9,95.6 241.7,98.7 243.6,101.5 C245.5,104.3 247.5,107.1 249.4,110.0 C251.3,112.9 253.1,115.8 255.0,118.7 C256.9,121.6 259.1,125.0 260.8,127.3 C262.5,129.5 263.5,130.6 265.0,132.2 C266.5,133.8 268.3,135.4 270.0,137.0 C271.7,138.6 273.3,140.2 275.0,141.5 C276.7,142.8 278.3,144.0 280.0,145.0 C281.7,146.0 283.3,146.8 285.0,147.6 C286.7,148.4 288.3,149.2 290.0,150.0 C291.7,150.8 293.3,151.8 295.0,152.6 C296.7,153.4 298.0,153.9 300.0,155.0 C302.0,156.1 304.7,157.9 307.0,159.3 C309.3,160.7 311.6,162.1 314.0,163.6 C316.4,165.1 319.1,166.7 321.5,168.6 C323.9,170.5 326.3,172.7 328.7,175.0 C331.1,177.3 333.9,180.2 335.8,182.2 C337.7,184.2 338.8,185.8 340.0,187.2 C341.2,188.6 341.8,189.5 343.0,190.8 C344.2,192.1 346.0,193.6 347.3,195.0 C348.6,196.4 349.4,197.1 351.0,199.0 C352.6,200.9 355.0,204.2 357.0,206.5 C359.0,208.8 360.2,209.8 363.0,213.0 C365.8,216.2 370.0,220.9 374.0,225.5 C378.0,230.1 382.7,235.4 387.0,240.5 C391.3,245.6 396.2,251.9 400.0,256.0 C403.8,260.1 406.7,262.2 410.0,265.0 C413.3,267.8 416.7,270.5 420.0,273.0 C423.3,275.5 426.7,278.0 430.0,280.0 C433.3,282.0 437.1,283.7 440.0,285.2 C442.9,286.7 446.3,288.4 447.6,289.0" stroke="#000" stroke-width="3.0" stroke-linecap="round"/>
</g>
<linearGradient id="cg" x1="398" y1="0" x2="430" y2="0" gradientUnits="userSpaceOnUse"><stop offset="0" stop-color="#000" stop-opacity="0"/><stop offset="1" stop-color="#000" stop-opacity="0.7"/></linearGradient>
<path d="M398,279 L420,287.4 L435,292 L447.6,295.2 L447.6,303.6 L435,302.8 L420,301.4 L398,299 Z" fill="url(#cg)" clip-path="url(#pc)"/>
<g fill="none" stroke-linejoin="round">
<path d="M491.9,42.2 H527.9" stroke="#000" stroke-width="3.9" stroke-linecap="round"/>
<path d="M491.9,42.2 H527.9" stroke="#8a8a8a" stroke-width="1.5" stroke-linecap="butt"/>
<path d="M491.9,63.2 H527.9" stroke="#000" stroke-width="3.5" stroke-linecap="round" stroke-dasharray="21 11.8 0.01 11.8"/>
<path d="M491.9,63.2 H527.9" stroke="#b8b8b8" stroke-width="1.4" stroke-linecap="butt" stroke-dasharray="21 11.8 0.01 11.8"/>
<path d="M491.9,84.2 H527.9" stroke="#000" stroke-width="4.0" stroke-linecap="round"/>
<path d="M491.9,84.2 H527.9" stroke="#fff" stroke-width="1.4" stroke-linecap="round"/>
<path d="M491.9,105.2 H527.9" stroke="#000" stroke-width="3.0" stroke-linecap="round"/>
<path d="M491.9,126.2 H527.9" stroke="#000" stroke-width="3.4" stroke-linecap="round" stroke-dasharray="6.1 6.6"/>
<path d="M491.9,126.2 H527.9" stroke="#fff" stroke-width="1.3" stroke-linecap="butt" stroke-dasharray="6.1 6.6"/>
<path d="M491.9,147.2 H527.9" stroke="#000" stroke-width="3.8" stroke-linecap="round" stroke-dasharray="7.6 7.4"/>
<path d="M491.9,147.2 H527.9" stroke="#444" stroke-width="1.6" stroke-linecap="butt" stroke-dasharray="7.6 7.4"/>
<path d="M491.9,168.2 H527.9" stroke="#000" stroke-width="4.4" stroke-linecap="round" stroke-dasharray="10.2 9.6"/>
<path d="M491.9,168.2 H527.9" stroke="#fff" stroke-width="1.8" stroke-linecap="butt" stroke-dasharray="10.2 9.6"/>
<path d="M491.9,189.2 H527.9" stroke="#000" stroke-width="3.8" stroke-linecap="round" stroke-dasharray="10.9 15.6"/>
<path d="M491.9,189.2 H527.9" stroke="#666" stroke-width="1.4" stroke-linecap="butt" stroke-dasharray="10.9 15.6"/>
<path d="M491.9,210.2 H527.9" stroke="#000" stroke-width="3.4" stroke-linecap="round" stroke-dasharray="6.3 6.4"/>
<path d="M491.9,231.2 H527.9" stroke="#000" stroke-width="4.0" stroke-linecap="round"/>
<path d="M491.9,231.2 H527.9" stroke="#3a3a3a" stroke-width="1.4" stroke-linecap="round"/>
<path d="M491.4,252.2 H528.3" stroke="#000" stroke-width="4.4" stroke-linecap="round" stroke-dasharray="0.01 9.03"/>
<path d="M491.9,273.2 H527.9" stroke="#000" stroke-width="4.2" stroke-linecap="round" stroke-dasharray="11.9 17.1 0.01 17.1"/>
</g>
<g font-family="Liberation Serif" font-size="12.8" fill="#000" stroke="#000" stroke-width="0.25" text-anchor="end">
<text transform="translate(47.4,309.1) scale(1,1.06)">0</text>
<text transform="translate(47.4,251.4) scale(1,1.06)">0.5</text>
<text transform="translate(47.4,193.6) scale(1,1.06)">1</text>
<text transform="translate(47.4,135.9) scale(1,1.06)">1.5</text>
<text transform="translate(47.4,78.1) scale(1,1.06)">2</text>
<text transform="translate(47.4,20.4) scale(1,1.06)">2.5</text>
</g><g font-family="Liberation Serif" font-size="12.8" fill="#000" stroke="#000" stroke-width="0.25" text-anchor="middle">
<text transform="translate(58.3,323.6) scale(1,1.06)">290</text>
<text transform="translate(118.0,323.6) scale(1,1.06)">310</text>
<text transform="translate(177.8,323.6) scale(1,1.06)">330</text>
<text transform="translate(237.6,323.6) scale(1,1.06)">350</text>
<text transform="translate(297.3,323.6) scale(1,1.06)">370</text>
<text transform="translate(357.1,323.6) scale(1,1.06)">390</text>
<text transform="translate(416.8,323.6) scale(1,1.06)">410</text>
</g>
<text x="252" y="343.4" font-family="Liberation Serif" font-weight="bold" font-size="14.2" text-anchor="middle">Wavelength (nm)</text>
<text transform="translate(23.4,159.5) rotate(-90)" font-family="Liberation Serif" font-weight="bold" font-size="14" text-anchor="middle">Absorbance (a.u.)</text>
<g font-family="Liberation Serif" font-weight="bold" font-size="14" fill="#000">
<text x="532.8" y="47.3">6a</text>
<text x="532.8" y="68.3">6b</text>
<text x="532.8" y="89.3">6c</text>
<text x="532.8" y="110.3">6d</text>
<text x="532.8" y="131.3">6e</text>
<text x="532.8" y="152.3">6f</text>
<text x="532.8" y="173.3">6g</text>
<text x="532.8" y="194.3">6h</text>
<text x="532.8" y="215.3">6i</text>
<text x="532.8" y="236.3">6j</text>
<text x="532.8" y="257.3">6k</text>
<text x="532.8" y="278.3">6l</text>
</g>
</svg>
</body></html>
